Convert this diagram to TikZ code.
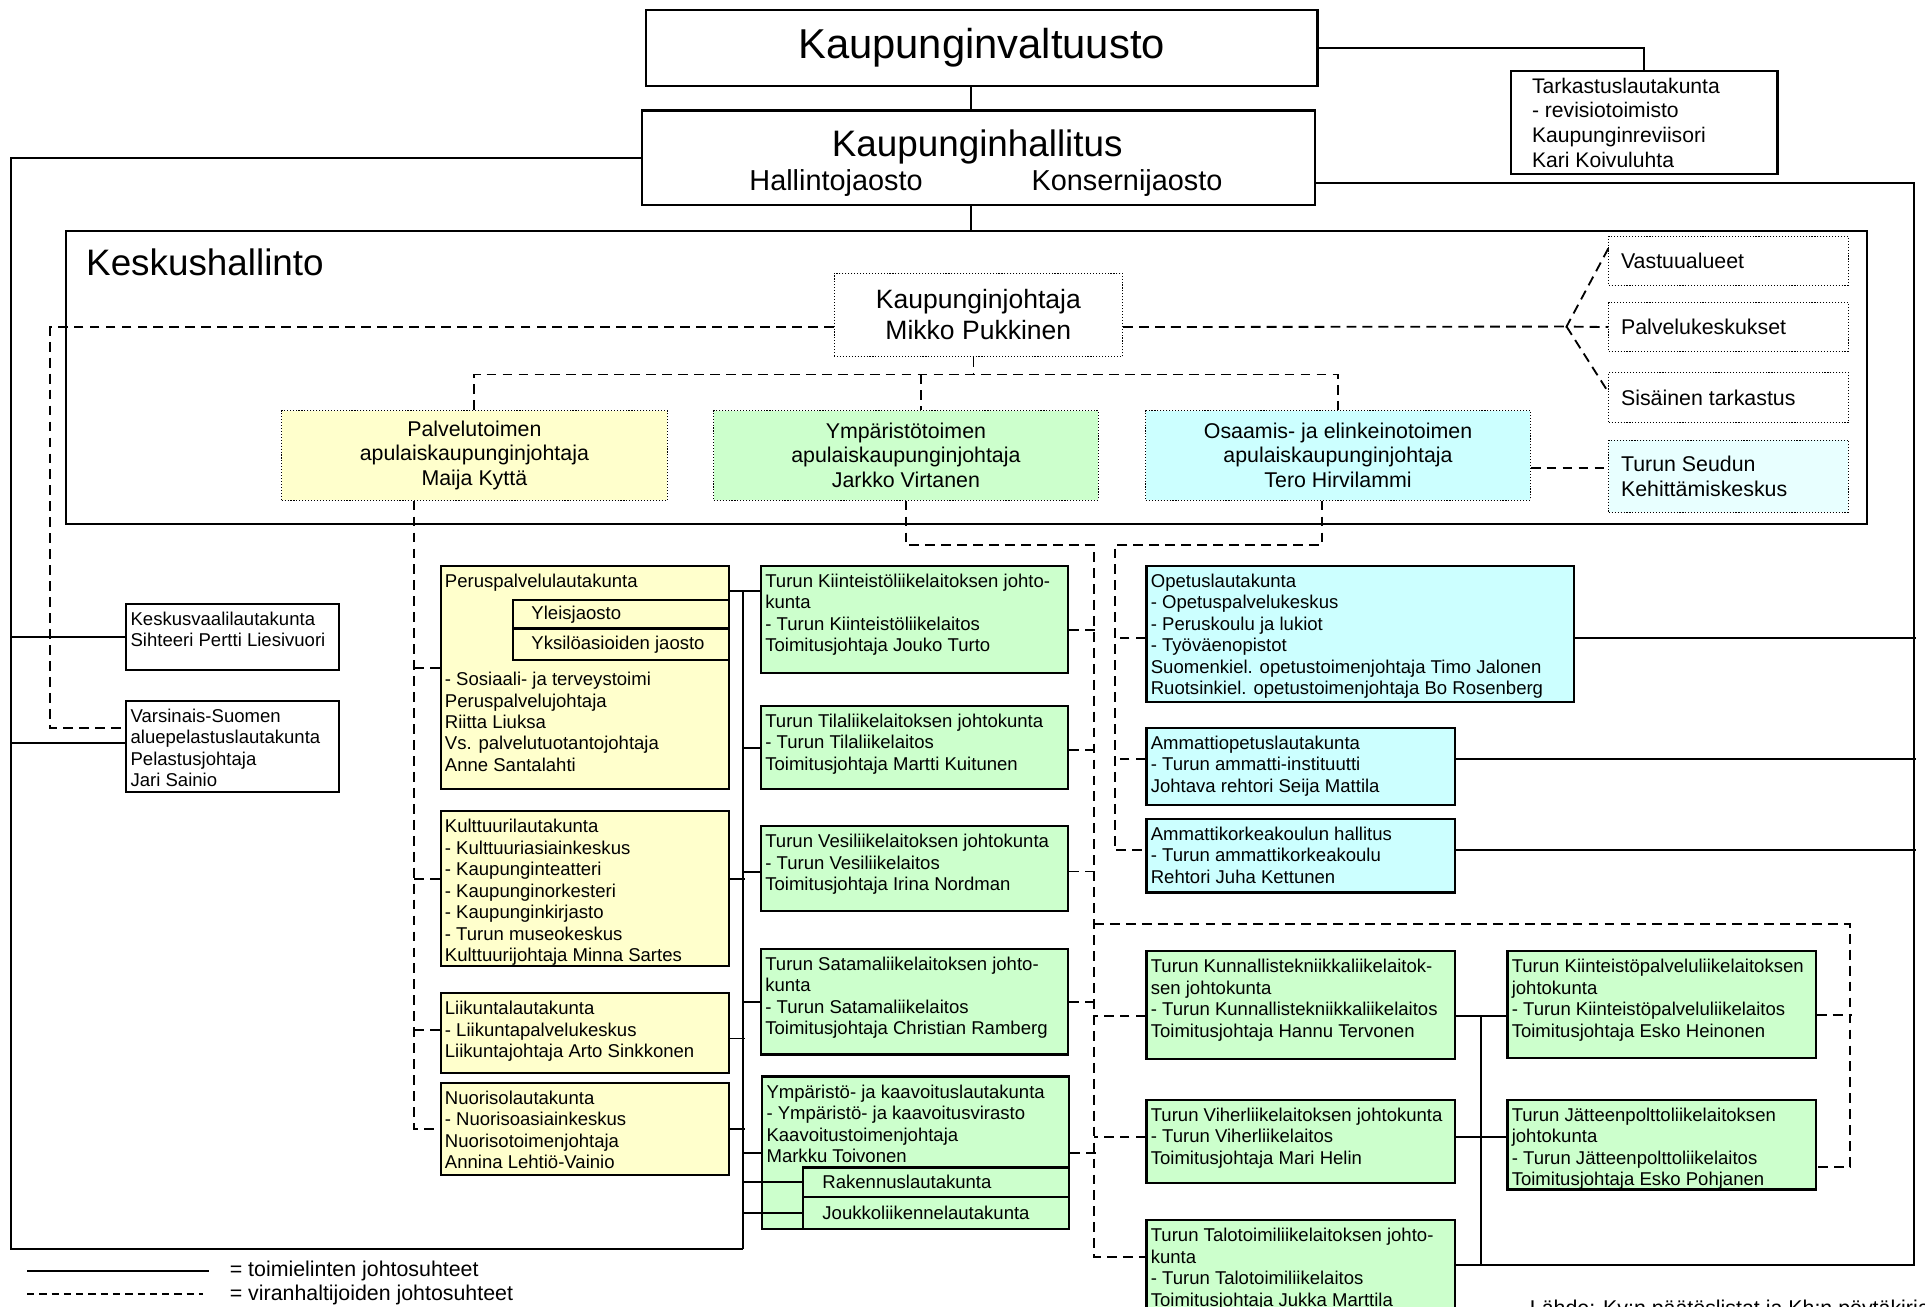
\documentclass[tikz,border=0pt]{standalone}
\usepackage{fontspec}
\setmainfont{Liberation Sans}
\usepackage{xcolor}

\definecolor{palvyel}{HTML}{FFFFCC}
\definecolor{ympgreen}{HTML}{CCFFCC}
\definecolor{osacyan}{HTML}{CCFFFF}
\definecolor{seudcyan}{HTML}{E8FFFF}

\newcommand{\boxfont}{\fontsize{15.1}{17.5}\selectfont}
\newcommand{\midfont}{\fontsize{17.4}{20}\selectfont}

\tikzset{
  org/.style={line width=1.6pt},
  vir/.style={line width=1.5pt, dash pattern=on 8pt off 5pt},
  dotline/.style={line width=0.8pt, dash pattern=on 0.9pt off 1.5pt},
  bigbox/.style={draw, line width=2pt, inner sep=0pt, anchor=north west},
  dotbox/.style={draw, dotline, inner sep=0pt, anchor=north west, align=center, font=\midfont},
  topbox/.style 2 args={draw, line width=1.8pt, inner sep=0pt, anchor=north west, font=\boxfont,
    execute at begin node={\begin{minipage}[t][#2pt][t]{#1pt}\raggedright\leftskip=3.5pt\rule{0pt}{17.5pt}},
    execute at end node={\end{minipage}}},
  midbox/.style n args={3}{draw, line width=1.8pt, inner sep=0pt, anchor=north west,
    execute at begin node={\begin{minipage}[c][#2pt][c]{#1pt}\raggedright\leftskip=#3pt},
    execute at end node={\end{minipage}}}
}

\begin{document}
\begin{tikzpicture}[x=1pt, y=-1pt]
  \useasboundingbox (0,0) rectangle (1568,1064.6);

  % Council and city board
  \node[bigbox, minimum width=547pt, minimum height=62pt, font=\fontsize{34}{40}\selectfont] (valt) at (525,7) {Kaupunginvaltuusto};
  \node[bigbox, minimum width=548pt, minimum height=77pt] (hall) at (522,89) {};
  \node[font=\fontsize{30}{36}\selectfont] (hallname) at (796,119.5) {Kaupunginhallitus};
  \node[font=\fontsize{23.5}{28}\selectfont] (hallj) at (681,149.5) {Hallintojaosto};
  \node[font=\fontsize{23.5}{28}\selectfont] (konsj) at (918,149.5) {Konsernijaosto};
  \node[midbox={217}{84}{17}, font=\fontsize{17.2}{20}\selectfont] (tark) at (1230,57) {Tarkastuslautakunta\\- revisiotoimisto\\Kaupunginreviisori\\Kari Koivuluhta};

  % Central administration
  \node[bigbox, line width=1.8pt, minimum width=1467pt, minimum height=239pt] (kesk) at (53,187) {};
  \node[anchor=west, inner sep=0pt, font=\fontsize{30}{36}\selectfont] (keskname) at (70,214) {Keskushallinto};
  \node[dotbox, minimum width=235pt, minimum height=68pt, font=\fontsize{21.6}{25}\selectfont] (kj) at (679,222) {Kaupunginjohtaja\\Mikko Pukkinen};
  \node[midbox={195}{40}{10}, dotline, font=\midfont] (vast) at (1310,192) {Vastuualueet};
  \node[midbox={195}{40}{10}, dotline, font=\midfont] (palv) at (1310,246) {Palvelukeskukset};
  \node[midbox={195}{41}{10}, dotline, font=\midfont] (sis) at (1310,303) {Sisäinen tarkastus};
  \node[midbox={195}{59}{10}, dotline, fill=seudcyan, font=\midfont] (seud) at (1310,358) {Turun Seudun\\Kehittämiskeskus};
  \node[dotbox, fill=palvyel, minimum width=314pt, minimum height=73pt] (apu1) at (229,334) {Palvelutoimen\\apulaiskaupunginjohtaja\\Maija Kyttä};
  \node[dotbox, fill=ympgreen, minimum width=313pt, minimum height=73pt] (apu2) at (581,334) {Ympäristötoimen\\apulaiskaupunginjohtaja\\Jarkko Virtanen};
  \node[dotbox, fill=osacyan, minimum width=313pt, minimum height=73pt] (apu3) at (933,334) {Osaamis- ja elinkeinotoimen\\apulaiskaupunginjohtaja\\Tero Hirvilammi};

  % Left column
  \node[topbox={173}{54}] (vaali) at (102,491) {Keskusvaalilautakunta\\Sihteeri Pertti Liesivuori};
  \node[topbox={173}{74}] (vspel) at (102,570) {Varsinais-Suomen\\aluepelastuslautakunta\\Pelastusjohtaja\\Jari Sainio};

  % Service boards
  \node[topbox={235}{182}, fill=palvyel] (perus) at (358,460) {Peruspalvelulautakunta\\[62.5pt]- Sosiaali- ja terveystoimi\\Peruspalvelujohtaja\\Riitta Liuksa\\Vs. palvelutuotantojohtaja\\Anne Santalahti};
  \node[midbox={176}{23}{15}, fill=palvyel, font=\boxfont] (yleis) at (417,488) {Yleisjaosto};
  \node[midbox={176}{26}{15}, fill=palvyel, font=\boxfont] (yksilo) at (417,511) {Yksilöasioiden jaosto};
  \node[topbox={235}{126}, fill=palvyel] (kult) at (358,660) {Kulttuurilautakunta\\- Kulttuuriasiainkeskus\\- Kaupunginteatteri\\- Kaupunginorkesteri\\- Kaupunginkirjasto\\- Turun museokeskus\\Kulttuurijohtaja Minna Sartes};
  \node[topbox={235}{65}, fill=palvyel] (liik) at (358,808) {Liikuntalautakunta\\- Liikuntapalvelukeskus\\Liikuntajohtaja Arto Sinkkonen};
  \node[topbox={235}{75}, fill=palvyel] (nuor) at (358,881) {Nuorisolautakunta\\- Nuorisoasiainkeskus\\Nuorisotoimenjohtaja\\Annina Lehtiö-Vainio};

  % Environment boards
  \node[topbox={250}{87}, fill=ympgreen] (kiint) at (619,460) {Turun Kiinteistöliikelaitoksen johto-\\kunta\\- Turun Kiinteistöliikelaitos\\Toimitusjohtaja Jouko Turto};
  \node[topbox={250}{68}, fill=ympgreen] (tila) at (619,574) {Turun Tilaliikelaitoksen johtokunta\\- Turun Tilaliikelaitos\\Toimitusjohtaja Martti Kuitunen};
  \node[topbox={250}{69}, fill=ympgreen] (vesi) at (619,672) {Turun Vesiliikelaitoksen johtokunta\\- Turun Vesiliikelaitos\\Toimitusjohtaja Irina Nordman};
  \node[topbox={250}{86}, fill=ympgreen] (sata) at (619,772) {Turun Satamaliikelaitoksen johto-\\kunta\\- Turun Satamaliikelaitos\\Toimitusjohtaja Christian Ramberg};
  \node[topbox={250}{124}, fill=ympgreen] (ymp) at (620,876) {Ympäristö- ja kaavoituslautakunta\\- Ympäristö- ja kaavoitusvirasto\\Kaavoitustoimenjohtaja\\Markku Toivonen};
  \node[midbox={217}{24}{16}, fill=ympgreen, font=\boxfont] (rak) at (653,950) {Rakennuslautakunta};
  \node[midbox={217}{26}{16}, fill=ympgreen, font=\boxfont] (jouk) at (653,974) {Joukkoliikennelautakunta};

  % Education boards
  \node[topbox={348}{111}, fill=osacyan] (opetus) at (933,460) {Opetuslautakunta\\- Opetuspalvelukeskus\\- Peruskoulu ja lukiot\\- Työväenopistot\\Suomenkiel. opetustoimenjohtaja Timo Jalonen\\Ruotsinkiel. opetustoimenjohtaja Bo Rosenberg};
  \node[topbox={251}{63}, fill=osacyan] (ammop) at (933,592) {Ammattiopetuslautakunta\\- Turun ammatti-instituutti\\Johtava rehtori Seija Mattila};
  \node[topbox={251}{60}, fill=osacyan] (amk) at (933,666) {Ammattikorkeakoulun hallitus\\- Turun ammattikorkeakoulu\\Rehtori Juha Kettunen};

  % Right enterprises
  \node[topbox={251}{88}, fill=ympgreen] (kunn) at (933,774) {Turun Kunnallistekniikkaliikelaitok-\\sen johtokunta\\- Turun Kunnallistekniikkaliikelaitos\\Toimitusjohtaja Hannu Tervonen};
  \node[topbox={251}{68}, fill=ympgreen] (viher) at (933,895) {Turun Viherliikelaitoksen johtokunta\\- Turun Viherliikelaitos\\Toimitusjohtaja Mari Helin};
  \node[topbox={251}{110}, fill=ympgreen] (talo) at (933,993) {Turun Talotoimiliikelaitoksen johto-\\kunta\\- Turun Talotoimiliikelaitos\\Toimitusjohtaja Jukka Marttila};
  \node[topbox={251}{87}, fill=ympgreen] (kpalv) at (1227,774) {Turun Kiinteistöpalveluliikelaitoksen\\johtokunta\\- Turun Kiinteistöpalveluliikelaitos\\Toimitusjohtaja Esko Heinonen};
  \node[topbox={251}{73}, fill=ympgreen] (jatt) at (1227,895) {Turun Jätteenpolttoliikelaitoksen\\johtokunta\\- Turun Jätteenpolttoliikelaitos\\Toimitusjohtaja Esko Pohjanen};

  % Helper points of the lines
  \coordinate (spine) at (791,0);
  \coordinate (lrail) at (9,1017);
  \coordinate (ltree) at (605,1017);
  \coordinate (ltop) at (605,481);
  \coordinate (rrail) at (1559,1030);
  \coordinate (rtree) at (1206,0);
  \coordinate (hub) at (793,305);
  \coordinate (ydrop) at (750,305);
  \coordinate (fan) at (1276,266);
  \coordinate (ldash) at (41,593);
  \coordinate (pdash) at (337,0);
  \coordinate (mdash) at (891,444);
  \coordinate (rdash) at (1507,752.6);
  \coordinate (odrop) at (1077,444);
  \coordinate (odash) at (908,444);

  % Solid lines
  \draw[org] (valt.south -| spine) -- (hall.north -| spine);
  \draw[org] (hall.south -| spine) -- (kesk.north -| spine);
  \draw[org] (valt.east) -| (tark.north);
  \draw[org] (hall.west) -| (lrail) -- (ltree);
  \draw[org] (vaali.west) -- ++(-93,0);
  \draw[org] ([yshift=3pt]vspel.west) -- ++(-93,0);
  \draw[org] ([yshift=-20.5pt]hall.east) -| (rrail) -- (rrail -| talo.east);
  \draw[org] ([yshift=-3pt]opetus.east) -- ++(278,0);
  \draw[org] ([yshift=6pt]ammop.east) -- ++(375,0);
  \draw[org] ([yshift=4.5pt]amk.east) -- ++(375,0);
  \draw[org] ([yshift=-9pt]kunn.east) -- ++(43,0);
  \draw[org] ([yshift=3.5pt]viher.east) -- ++(43,0);
  \draw[org] (rtree |- kunn.east) ++(0,9) -- (rtree |- rrail);

  % Left tree
  \draw[org] (ltop) -- (ltree);
  \draw[org] ([yshift=-21pt]perus.north east) -- ([yshift=-21pt]kiint.north west);
  \draw[org] (tila.west) -- ++(-14,0);
  \draw[org] ([yshift=-2.5pt]vesi.west) -- ++(-14,0);
  \draw[org] ([yshift=8pt]kult.east) -- ++(12,0);
  \draw[org] (sata.west) -- ++(-14,0);
  \draw[org] ([yshift=-4.5pt]liik.east) -- ++(12,0);
  \draw[org] (nuor.east) -- ++(12,0);
  \draw[org] (ymp.west) -- ++(-15,0);
  \draw[org] (rak.west) -- ++(-48,0);
  \draw[org] (jouk.west) -- ++(-48,0);

  % Dashed lines of the mayor
  \draw[vir] ([yshift=-10pt]kj.west) -| (ldash) -- (vspel.west |- ldash);
  \draw[vir] ([yshift=-10pt]kj.east) -- (fan);
  \draw[vir] ([yshift=10pt]vast.west) -- (fan) -- (palv.west);
  \draw[vir] (fan) -- ([yshift=4.5pt]sis.west);
  \draw[vir] (kj.south -| hub) -- (hub);
  \draw[vir] (apu1.north) |- (hub) -| (apu3.north);
  \draw[vir] (ydrop) -- (apu2.north -| ydrop);
  \draw[vir] ([yshift=-10.5pt]apu3.east) -- ++(64,0);

  % Dashed lines of the deputy mayors
  \draw[vir] (apu1.south -| pdash) |- (nuor.west);
  \draw[vir] ([yshift=8pt]perus.west) -- ++(-21,0);
  \draw[vir] ([yshift=8pt]kult.west) -- ++(-21,0);
  \draw[vir] ([yshift=2.5pt]liik.west) -- ++(-21,0);

  \draw[vir] (apu2.south) |- (mdash) |- ([yshift=-31pt]talo.north west);
  \draw[vir] ([yshift=-8.5pt]kiint.east) -- ++(22,0);
  \draw[vir] ([yshift=-2pt]tila.east) -- ++(22,0);
  \draw[vir] ([yshift=-2.5pt]vesi.east) -- ++(22,0);
  \draw[vir] (sata.east) -- ++(22,0);
  \draw[vir] (ymp.east) -- ++(21,0);
  \draw[vir] ([yshift=-9pt]kunn.west) -- ++(-42,0);
  \draw[vir] ([yshift=3.5pt]viher.west) -- ++(-42,0);
  \draw[vir] (mdash |- rdash) -- (rdash) |- ([yshift=-18pt]jatt.east);
  \draw[vir] ([yshift=-8.5pt]kpalv.east) -- ++(29,0);

  \draw[vir] (apu3.south -| odrop) -- (odrop) -- (odash) |- ([yshift=4.5pt]amk.west);
  \draw[vir] ([yshift=-3pt]opetus.west) -- ++(-25,0);
  \draw[vir] ([yshift=6pt]ammop.west) -- ++(-25,0);

  % Legend and source
  \coordinate (sola) at (22,1035);
  \coordinate (solb) at (170,1035);
  \coordinate (dasa) at (22,1054);
  \coordinate (dasb) at (165,1054);
  \draw[org] (sola) -- (solb);
  \draw[org, dash pattern=on 6pt off 4pt] (dasa) -- (dasb);
  \node[anchor=west, inner sep=0pt, font=\midfont] (legsol) at (187,1035) {= toimielinten johtosuhteet};
  \node[anchor=west, inner sep=0pt, font=\midfont] (legdas) at (187,1055) {= viranhaltijoiden johtosuhteet};
  \node[anchor=base west, inner sep=0pt, font=\midfont] (lahde) at (1246,1071.5) {Lähde: Kv:n päätöslistat ja Kh:n pöytäkirjat};
\end{tikzpicture}
\end{document}
